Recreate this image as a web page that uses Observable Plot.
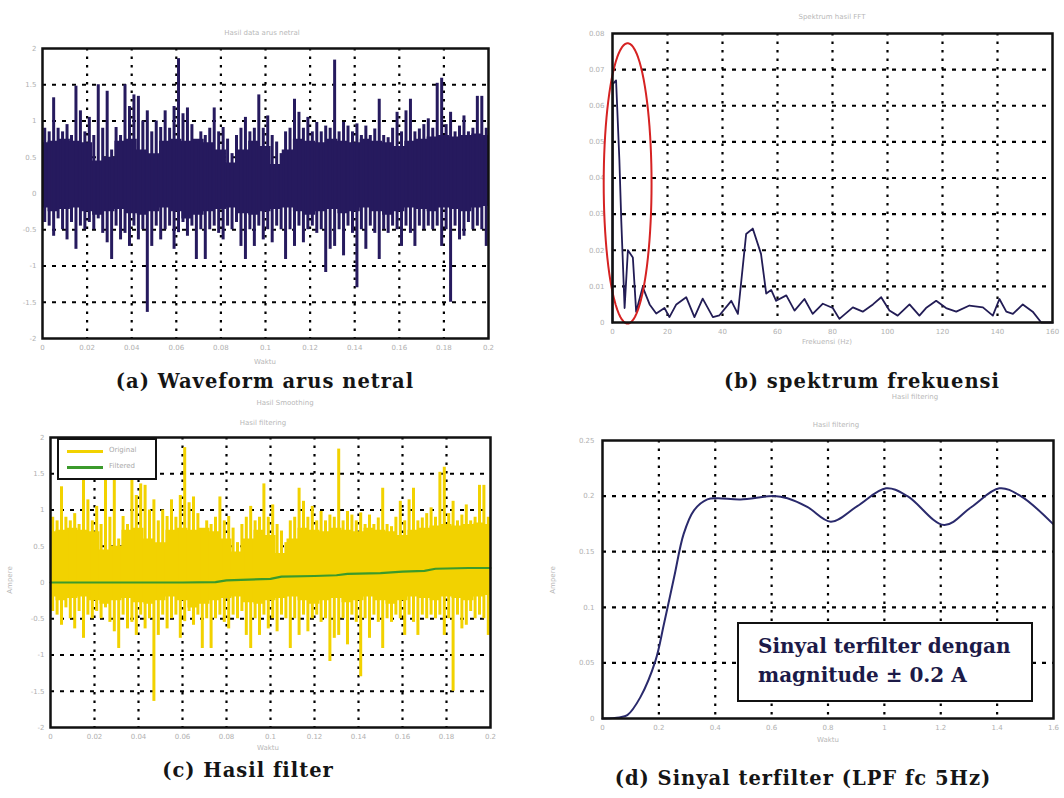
<!DOCTYPE html>
<html><head><meta charset="utf-8">
<script src="https://cdn.jsdelivr.net/npm/d3@7"></script>
<script src="https://cdn.jsdelivr.net/npm/@observablehq/plot@0.6"></script>
<style>
body{margin:0;background:#fff;}
#wrap{position:relative;width:1064px;height:798px;overflow:hidden;background:#fff;font-family:"DejaVu Sans",sans-serif;}
.p{position:absolute;}
.cap{position:absolute;font-family:"DejaVu Serif",serif;font-weight:bold;font-size:19.5px;color:#151515;white-space:nowrap;transform:translate(-50%,-50%);letter-spacing:1px;}
.faint{position:absolute;font-size:7px;color:#b8b8b8;white-space:nowrap;transform:translate(-50%,-50%);}
.ylab{position:absolute;font-size:7px;color:#b8b8b8;white-space:nowrap;transform:translate(-50%,-50%) rotate(-90deg);}
.legend{position:absolute;left:57px;top:438px;width:96px;height:38px;border:2px solid #111;background:#fff;}
.legend .ln{position:absolute;left:8px;width:36px;height:3px;}
.legend .tx{position:absolute;left:50px;font-size:7px;color:#aaa;}
.note{position:absolute;left:737px;top:622px;width:296px;height:80px;border:2px solid #111;background:#fff;font-family:"DejaVu Serif",serif;font-weight:bold;font-size:20px;color:#1c1a48;line-height:29px;padding:8px 0 0 19px;box-sizing:border-box;white-space:nowrap;}
</style></head><body><div id="wrap"></div>
<script>
// ---------- data ----------
// (a)/(c) waveform: per-bin envelope of the spikes (bin = 0.002 s)
const spikeHi = [0.9,0.85,1.32,0.9,0.85,0.95,0.8,1.48,1.14,0.85,1.05,0.8,1.5,0.9,1.41,0.6,0.91,0.8,1.5,1.2,
1.36,1.34,1.0,1.14,0.85,1.0,0.91,1.14,0.9,1.2,1.86,1.1,1.18,0.95,0.7,0.85,0.8,0.9,1.18,0.85,
0.91,0.75,0.55,0.8,0.9,1.05,0.85,0.9,1.36,0.9,1.07,0.8,0.71,0.55,0.85,0.9,1.3,1.12,0.9,1.05,
0.85,0.98,0.85,0.93,0.9,1.84,0.85,0.98,0.93,0.85,0.96,0.8,0.93,0.8,0.89,1.3,0.8,0.77,0.9,1.12,
0.85,1.14,1.3,0.85,0.89,0.95,1.03,0.9,1.52,1.59,0.95,1.12,0.85,0.93,1.07,0.85,0.9,1.34,1.34,0.9];
const spikeLo = [-0.4,-0.45,-0.59,-0.35,-0.5,-0.64,-0.4,-0.77,-0.45,-0.5,-0.4,-0.5,-0.35,-0.55,-0.68,-0.91,-0.45,-0.64,-0.55,-0.73,
-0.45,-0.64,-0.5,-1.64,-0.73,-0.45,-0.64,-0.5,-0.45,-0.77,-0.54,-0.4,-0.59,-0.45,-0.91,-0.5,-0.91,-0.5,-0.45,-0.55,
-0.64,-0.45,-0.5,-0.4,-0.73,-0.91,-0.5,-0.73,-0.45,-0.64,-0.5,-0.68,-0.45,-0.5,-0.91,-0.5,-0.73,-0.45,-0.68,-0.5,
-0.45,-0.55,-0.5,-1.09,-0.77,-0.73,-0.5,-0.86,-0.45,-0.55,-1.3,-0.5,-0.77,-0.45,-0.55,-0.91,-0.5,-0.55,-0.45,-0.5,
-0.73,-0.45,-0.55,-0.73,-0.45,-0.5,-0.45,-0.5,-0.45,-0.73,-0.5,-1.5,-0.45,-0.64,-0.59,-0.4,-0.5,-0.45,-0.5,-0.73];
const binWidth = 0.002;
// dense core of the waveform, every 0.005 s
const coreTime = [0,0.005,0.01,0.015,0.02,0.025,0.03,0.035,0.04,0.045,0.05,0.055,0.06,0.065,0.07,0.075,0.08,0.085,0.09,0.095,0.1,
0.105,0.11,0.115,0.12,0.125,0.13,0.135,0.14,0.145,0.15,0.155,0.16,0.165,0.17,0.175,0.18,0.185,0.19,0.195,0.2];
const coreHi = [0.7,0.72,0.75,0.72,0.7,0.45,0.5,0.72,0.75,0.6,0.55,0.72,0.75,0.72,0.75,0.7,0.6,0.42,0.6,0.72,0.65,
0.4,0.6,0.75,0.72,0.7,0.75,0.72,0.7,0.75,0.72,0.7,0.65,0.72,0.75,0.78,0.8,0.78,0.8,0.82,0.8];
const coreLo = [-0.2,-0.25,-0.22,-0.2,-0.25,-0.3,-0.25,-0.22,-0.28,-0.3,-0.25,-0.2,-0.25,-0.35,-0.3,-0.25,-0.22,-0.2,-0.28,-0.3,-0.25,
-0.22,-0.2,-0.25,-0.3,-0.25,-0.22,-0.28,-0.25,-0.2,-0.25,-0.3,-0.25,-0.2,-0.22,-0.25,-0.2,-0.22,-0.25,-0.2,-0.18];
// (c) filtered signal
const filtTime = [0,0.02,0.04,0.06,0.075,0.08,0.1,0.105,0.12,0.13,0.135,0.15,0.16,0.17,0.175,0.19,0.2];
const filtVal  = [0,0,0,0,0.005,0.03,0.05,0.08,0.09,0.1,0.12,0.13,0.15,0.16,0.19,0.2,0.2];
// (b) spectrum
const specFreq = [0,0.1,1.3,2.5,3.2,4.4,5.6,7.4,8.6,11,13.5,15.9,18.9,20.7,23.2,26.8,29.8,32.8,36.5,38.9,43.2,45.6,48.6,51,54,55.9,57.7,59.5,
63.2,66.2,69.8,72.8,76.5,80.1,82.5,87.4,91,94.7,97.7,100.7,103.7,108,111.6,114,117.7,121.3,125,129.8,134.7,138.3,140.7,143.2,145.6,149.2,152.8,155.9,160];
const specVal = [0,0.066,0.067,0.045,0.028,0.004,0.02,0.018,0.003,0.0098,0.005,0.0025,0.004,0.0015,0.005,0.007,0.0015,0.0066,0.0015,0.002,0.006,0.0024,0.0245,0.026,0.019,0.008,0.009,0.006,
0.0075,0.0033,0.0065,0.0024,0.0052,0.004,0.001,0.0042,0.003,0.005,0.007,0.0033,0.0019,0.005,0.0019,0.004,0.006,0.004,0.003,0.0047,0.0042,0.0019,0.0065,0.003,0.0024,0.005,0.003,0,0];
const ellipseCenter = [5.5, 0.0385];
const ellipseRadii = [8.7, 0.0388];
// (d) LPF output
const lpfTime = [0,0.06,0.088,0.134,0.188,0.218,0.254,0.288,0.324,0.372,0.408,0.49,0.608,0.656,0.728,0.81,0.904,1.006,1.082,1.212,1.308,1.408,1.484,1.598];
const lpfVal  = [0,0.001,0.003,0.019,0.052,0.085,0.127,0.166,0.187,0.197,0.198,0.197,0.2,0.198,0.19,0.177,0.191,0.207,0.2,0.174,0.19,0.207,0.2,0.175];
// ticks
const timeTicks = [0,0.02,0.04,0.06,0.08,0.1,0.12,0.14,0.16,0.18,0.2];
const ampTicks = [-2,-1.5,-1,-0.5,0,0.5,1,1.5,2];
const freqTicks = [0,20,40,60,80,100,120,140,160];
const specTicks = [0,0.01,0.02,0.03,0.04,0.05,0.06,0.07,0.08];
const lpfTimeTicks = [0,0.2,0.4,0.6,0.8,1,1.2,1.4,1.6];
const lpfTicks = [0,0.05,0.1,0.15,0.2,0.25];

// ---------- helpers ----------
const wrap = document.getElementById("wrap");
function place(el, left, top) { el.classList.add("p"); el.style.left = left + "px"; el.style.top = top + "px"; wrap.appendChild(el); }
function addDiv(cls, text, x, y) { const d = document.createElement("div"); d.className = cls; d.textContent = text; d.style.left = x + "px"; d.style.top = y + "px"; wrap.appendChild(d); return d; }
const fmt = d => String(d);
const gridStyleV = {stroke: "#000", strokeWidth: 2.2, strokeDasharray: "2.5,6"};
const gridStyleH = {stroke: "#000", strokeWidth: 2.2, strokeDasharray: "4,6"};
const inner = a => a.slice(1, -1);

const spikeRows = spikeHi.map((h, i) => ({t: (i + 0.5) * binWidth, hi: h, lo: spikeLo[i]}));
const coreRows = coreTime.map((t, i) => ({t, hi: coreHi[i], lo: coreLo[i]}));

function wavePlot(color, extraMarks, m) {
  return Plot.plot({
    width: 510, height: 360, marginLeft: m.l, marginRight: m.r, marginTop: m.t, marginBottom: m.b,
    style: {background: "transparent", fontSize: "7px", color: "#b0b0b0", fontFamily: "DejaVu Sans"},
    x: {domain: [0, 0.2], ticks: timeTicks, tickSize: 0, tickPadding: 7, tickFormat: fmt, label: null},
    y: {domain: [-2, 2], ticks: ampTicks, tickSize: 0, tickPadding: 6, tickFormat: fmt, label: null},
    marks: [
      Plot.ruleX(inner(timeTicks), gridStyleV),
      Plot.ruleY(inner(ampTicks), gridStyleH),
      Plot.areaY(coreRows, {x: "t", y1: "lo", y2: "hi", fill: color, curve: "step"}),
      Plot.ruleX(spikeRows, {x: "t", y1: "lo", y2: "hi", stroke: color, strokeWidth: 3}),
      ...extraMarks,
      Plot.frame({stroke: "#111", strokeWidth: 2.5})
    ]
  });
}

// (a)
place(wavePlot("#261a5e", [], {l: 42, r: 22, t: 28, b: 42}), 0, 20);
// (c)
place(wavePlot("#f2d200", [
  Plot.line(filtTime.map((t, i) => ({t, v: filtVal[i]})), {x: "t", y: "v", stroke: "#3b9a2b", strokeWidth: 2.2})
], {l: 50, r: 20, t: 27, b: 43}), 0, 410);

// (b)
const ell = d3.range(0, 361, 4).map(a => ({f: ellipseCenter[0] + ellipseRadii[0] * Math.cos(a * Math.PI / 180), v: ellipseCenter[1] + ellipseRadii[1] * Math.sin(a * Math.PI / 180)}));
place(Plot.plot({
  width: 504, height: 360, marginLeft: 52, marginRight: 12, marginTop: 33, marginBottom: 38,
  style: {background: "transparent", fontSize: "7px", color: "#b0b0b0", fontFamily: "DejaVu Sans"},
  x: {domain: [0, 160], ticks: freqTicks, tickSize: 0, tickPadding: 7, tickFormat: fmt, label: null},
  y: {domain: [0, 0.08], ticks: specTicks, tickSize: 0, tickPadding: 8, tickFormat: fmt, label: null},
  marks: [
    Plot.ruleX(inner(freqTicks), gridStyleV),
    Plot.ruleY(inner(specTicks), gridStyleH),
    Plot.line(specFreq.map((f, i) => ({f, v: specVal[i]})), {x: "f", y: "v", stroke: "#221c55", strokeWidth: 1.8}),
    Plot.line(ell, {x: "f", y: "v", stroke: "#d62222", strokeWidth: 2}),
    Plot.frame({stroke: "#111", strokeWidth: 2.5})
  ]
}), 560, 0);

// (d)
place(Plot.plot({
  width: 524, height: 350, marginLeft: 62, marginRight: 11, marginTop: 30, marginBottom: 42,
  style: {background: "transparent", fontSize: "7px", color: "#b0b0b0", fontFamily: "DejaVu Sans"},
  x: {domain: [0, 1.6], ticks: lpfTimeTicks, tickSize: 0, tickPadding: 7, tickFormat: fmt, label: null},
  y: {domain: [0, 0.25], ticks: lpfTicks, tickSize: 0, tickPadding: 8, tickFormat: fmt, label: null},
  marks: [
    Plot.ruleX(inner(lpfTimeTicks), gridStyleV),
    Plot.ruleY(inner(lpfTicks), gridStyleH),
    Plot.line(lpfTime.map((t, i) => ({t, v: lpfVal[i]})), {x: "t", y: "v", stroke: "#2a2a6c", strokeWidth: 2, curve: "catmull-rom"}),
    Plot.frame({stroke: "#111", strokeWidth: 2.5})
  ]
}), 540, 410);

// ---------- texts ----------
addDiv("faint", "Hasil data arus netral", 262, 33);
addDiv("faint", "Spektrum hasil FFT", 832, 17);
addDiv("faint", "Hasil filtering", 263, 423);
addDiv("faint", "Hasil filtering", 836, 425);
addDiv("faint", "Hasil Smoothing", 285, 403);
addDiv("faint", "Hasil filtering", 915, 397);
addDiv("faint", "Waktu", 265, 362);
addDiv("faint", "Frekuensi (Hz)", 827, 342);
addDiv("faint", "Waktu", 268, 748);
addDiv("faint", "Waktu", 828, 740);
addDiv("ylab", "Ampere", 10, 580);
addDiv("ylab", "Ampere", 553, 580);

addDiv("cap", "(a) Waveform arus netral", 265, 381);
addDiv("cap", "(b) spektrum frekuensi", 862, 381);
addDiv("cap", "(c) Hasil filter", 248, 770);
addDiv("cap", "(d) Sinyal terfilter (LPF fc 5Hz)", 803, 778);

// legend (c)
const lg = document.createElement("div"); lg.className = "legend";
lg.innerHTML = '<div class="ln" style="top:10px;background:#f2d200"></div><div class="tx" style="top:6px">Original</div>' +
  '<div class="ln" style="top:26px;background:#3b9a2b"></div><div class="tx" style="top:22px">Filtered</div>';
wrap.appendChild(lg);
// annotation (d)
const nt = document.createElement("div"); nt.className = "note";
nt.innerHTML = "Sinyal terfilter dengan<br>magnitude ± 0.2 A";
wrap.appendChild(nt);
</script></body></html>
